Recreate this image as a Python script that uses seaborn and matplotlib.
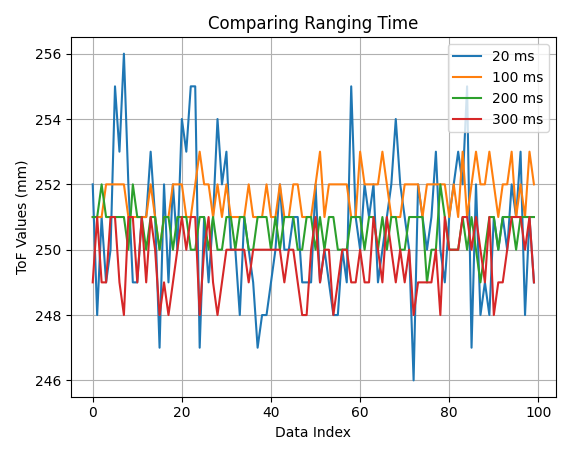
import numpy as np
import pandas as pd
import seaborn as sns
import matplotlib
matplotlib.use("Agg")
import matplotlib.pyplot as plt

# ToF readings per ranging time
tof_20 = [252, 248, 251, 249, 250, 255, 253, 256, 252, 249, 249, 251, 251, 253, 251, 247, 252, 249, 252, 250,
          254, 253, 255, 255, 247, 251, 249, 251, 254, 252, 253, 250, 250, 248, 251, 250, 249, 247, 248, 248,
          249, 250, 252, 250, 250, 251, 251, 249, 249, 249, 252, 249, 250, 249, 248, 248, 250, 249, 255, 251,
          250, 252, 251, 252, 249, 250, 251, 252, 254, 252, 251, 250, 246, 252, 251, 250, 251, 253, 250, 249,
          251, 252, 253, 252, 255, 247, 252, 248, 249, 248, 251, 250, 251, 250, 252, 251, 253, 248, 251, 249]
tof_100 = [251, 251, 251, 252, 252, 252, 252, 252, 251, 251, 251, 251, 251, 252, 251, 250, 251, 251, 252, 252,
           252, 251, 251, 252, 253, 252, 252, 251, 252, 251, 252, 251, 251, 251, 251, 252, 251, 251, 251, 252,
           251, 251, 252, 251, 251, 252, 252, 251, 251, 251, 252, 253, 251, 252, 252, 252, 252, 252, 251, 251,
           253, 252, 252, 252, 252, 253, 252, 251, 251, 251, 252, 252, 252, 252, 251, 252, 252, 252, 252, 252,
           251, 252, 251, 253, 251, 252, 253, 252, 252, 253, 252, 251, 252, 252, 253, 251, 252, 251, 253, 252]
tof_200 = [251, 251, 252, 251, 251, 251, 251, 251, 250, 252, 251, 251, 250, 251, 251, 250, 251, 251, 250, 251,
           251, 251, 250, 250, 251, 251, 250, 251, 250, 250, 251, 251, 250, 251, 251, 250, 250, 251, 251, 251,
           250, 251, 250, 251, 251, 251, 250, 250, 251, 251, 250, 251, 250, 251, 251, 250, 250, 250, 251, 251,
           251, 250, 251, 251, 250, 251, 250, 251, 251, 250, 250, 251, 251, 251, 251, 249, 250, 250, 252, 251,
           250, 250, 250, 251, 250, 251, 250, 249, 250, 251, 251, 250, 251, 251, 251, 250, 251, 251, 251, 251]
tof_300 = [249, 251, 249, 249, 251, 251, 249, 248, 251, 251, 249, 251, 249, 251, 250, 248, 249, 248, 249, 250,
           251, 250, 251, 251, 248, 250, 251, 249, 248, 249, 250, 250, 250, 250, 250, 249, 250, 250, 250, 250,
           250, 250, 250, 249, 250, 250, 249, 248, 248, 250, 251, 249, 250, 250, 248, 249, 250, 250, 249, 249,
           250, 249, 249, 251, 250, 249, 251, 250, 249, 250, 249, 250, 248, 249, 249, 249, 249, 250, 248, 251,
           250, 250, 250, 251, 251, 250, 251, 250, 249, 251, 248, 249, 249, 250, 251, 251, 251, 250, 251, 249]

series = {'20 ms': tof_20, '100 ms': tof_100, '200 ms': tof_200, '300 ms': tof_300}

fig, ax = plt.subplots(figsize=(5.71, 4.55), dpi=100)
for name, vals in series.items():
    sns.lineplot(x=np.arange(len(vals)), y=vals, label=name, ax=ax)

ax.set_title('Comparing Ranging Time')
ax.set_xlabel('Data Index')
ax.set_ylabel('ToF Values (mm)')
ax.grid(True)
ax.legend(loc='upper right')
plt.tight_layout()
plt.savefig('out.png', dpi=100)
